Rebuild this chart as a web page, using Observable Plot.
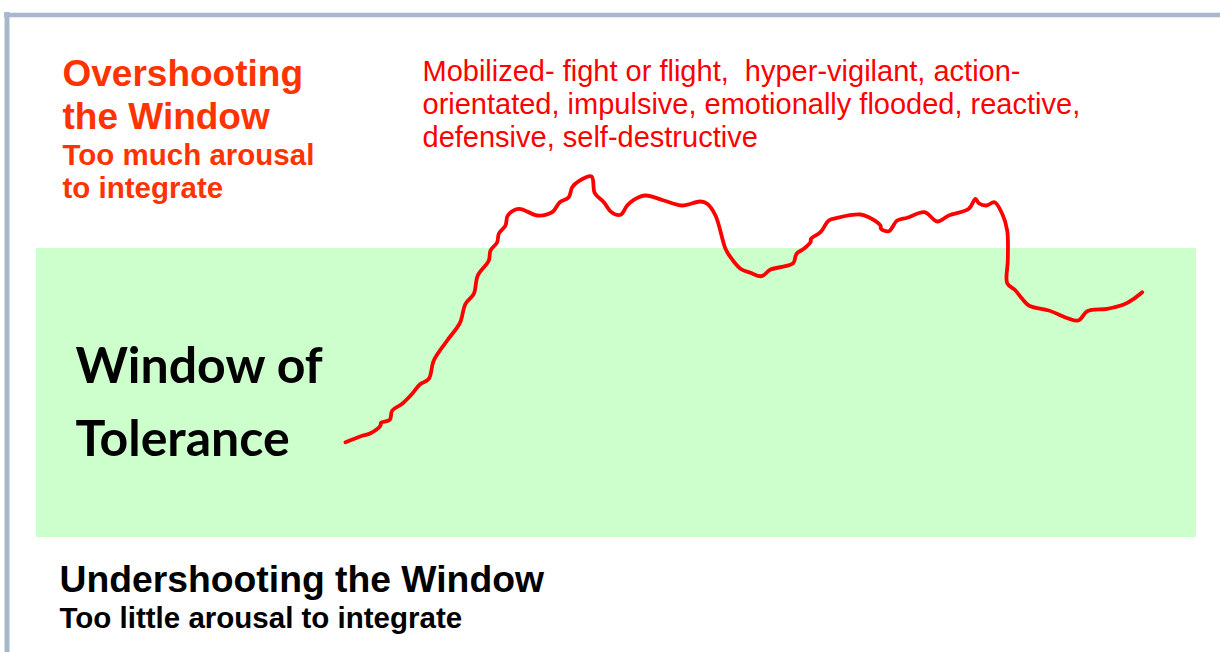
<!DOCTYPE html>
<html>
<head>
<meta charset="utf-8">
<script src="https://cdn.jsdelivr.net/npm/d3@7"></script>
<script src="https://cdn.jsdelivr.net/npm/@observablehq/plot@0.6"></script>
<style>
  html, body { margin: 0; padding: 0; background: #ffffff; }
  #chart svg { display: block; }
</style>
</head>
<body>
<div id="chart"></div>
<script>
// ---- Data (diagram coordinate system: 0..1220 across, 0..652 down) ----
// Arousal trace
const traceX = [345, 361.7, 370, 380, 380.5, 389.3, 391.7, 401.7, 411.7, 419.3, 428.3, 433.3, 446.7, 459.3, 465, 473.3, 477.3, 488.3, 490, 496.7, 498.3, 505, 507.3, 518.3, 536.7, 551.7, 559.3, 568.3, 571.7, 578.3, 591, 594.3, 603.3, 611, 620, 626.7, 633.3, 645, 663.3, 681.7, 700, 706.7, 715, 725, 730, 740, 750, 761, 770, 780, 792.7, 796, 803.3, 810, 810.5, 820, 828.3, 836.7, 860, 868.3, 880, 880.5, 888.3, 896.7, 906.7, 924, 936.7, 948.3, 968.3, 975, 978.3, 986, 994, 1001.7, 1006.7, 1007.3, 1006.7, 1015, 1021.7, 1028.3, 1048.3, 1077.7, 1086.7, 1106.7, 1123.3, 1133.3, 1141.7];
const traceY = [441.7, 435.3, 432.7, 425, 422.3, 419.3, 410, 403.3, 393.3, 384, 378.3, 360, 340, 322.7, 303.3, 293.3, 275, 260, 250, 241.7, 233.3, 225, 215, 208.3, 215, 211.7, 201.7, 196.7, 186.7, 180.7, 176, 192.7, 201.7, 211.7, 214.3, 205, 199.3, 195, 200, 205, 201, 203.3, 215, 248.3, 256.7, 268.3, 272.3, 275.7, 269, 266.7, 262.7, 253.3, 248.3, 241.7, 238.3, 231.7, 220, 217.3, 214, 216.7, 225, 228.3, 230.7, 220, 217.3, 211.7, 221, 215, 208.3, 198.3, 202.7, 205, 201.7, 213.3, 230, 260, 282.7, 290, 298.3, 305, 310, 320, 310.7, 308.3, 304, 298.3, 291.7];

// Window of tolerance band
const bandX = [36, 1196];
const bandY = [248, 537];

// Frame
const frameLeftX = 6.5, frameTopY = 14.5;

// Texts
const overTitle = ["Overshooting", "the Window"];
const overSub = ["Too much arousal", "to integrate"];
const overDesc = ["Mobilized- fight or flight,  hyper-vigilant, action-",
                  "orientated, impulsive, emotionally flooded, reactive,",
                  "defensive, self-destructive"];
const windowLabel = ["Window of", "Tolerance"];
const underTitle = ["Undershooting the Window"];
const underSub = ["Too little arousal to integrate"];

// ---- Layout ----
const W = 1220, H = 652;
const trace = traceX.map((x, i) => ({x, y: traceY[i]}));
const lines = (arr, x0, y0, step) => arr.map((t, i) => ({t, x: x0, y: y0 + i * step}));

const arial = "'Liberation Sans', Arial, Helvetica, sans-serif";

const plot = Plot.plot({
  width: W,
  height: H,
  margin: 0,
  x: {domain: [0, W], range: [0, W], axis: null},
  y: {domain: [0, H], range: [0, H], axis: null},
  style: {background: "#ffffff", overflow: "visible"},
  marks: [
    Plot.rect([{}], {x1: bandX[0], x2: bandX[1], y1: bandY[0], y2: bandY[1], fill: "#ccffcc"}),
    Plot.ruleX([frameLeftX], {y1: 12, y2: H, stroke: "#a8b8cc", strokeWidth: 5}),
    Plot.ruleY([frameTopY], {x1: 4, x2: W, stroke: "#a8b8cc", strokeWidth: 4.5}),
    Plot.line(trace, {x: "x", y: "y", stroke: "#ff0000", strokeWidth: 3.8, curve: "catmull-rom", strokeLinejoin: "round", strokeLinecap: "round"}),
    Plot.text(lines(overTitle, 62, 85, 43.5), {x: "x", y: "y", text: "t", textAnchor: "start", lineAnchor: "bottom", fill: "#ff3300", fontSize: 37, fontWeight: "bold", fontFamily: arial}),
    Plot.text(lines(overSub, 62, 164, 33), {x: "x", y: "y", text: "t", textAnchor: "start", lineAnchor: "bottom", fill: "#ff3300", fontSize: 29.5, fontWeight: "bold", fontFamily: arial}),
    Plot.text(lines(overDesc, 422, 80, 33), {x: "x", y: "y", text: "t", textAnchor: "start", lineAnchor: "bottom", fill: "#ff0000", fontSize: 29, fontFamily: arial, style: {}}),
    Plot.text(lines(windowLabel, 75, 382, 73), {x: "x", y: "y", text: "t", textAnchor: "start", lineAnchor: "bottom", fill: "#000000", fontSize: 50, fontWeight: "bold", fontFamily: "Lato, 'Open Sans', sans-serif"}),
    Plot.text(lines(underTitle, 59, 591, 0), {x: "x", y: "y", text: "t", textAnchor: "start", lineAnchor: "bottom", fill: "#000000", fontSize: 37.3, fontWeight: "bold", fontFamily: arial}),
    Plot.text(lines(underSub, 59, 627, 0), {x: "x", y: "y", text: "t", textAnchor: "start", lineAnchor: "bottom", fill: "#000000", fontSize: 29.5, fontWeight: "bold", fontFamily: arial})
  ]
});

document.getElementById("chart").appendChild(plot);
</script>
</body>
</html>
